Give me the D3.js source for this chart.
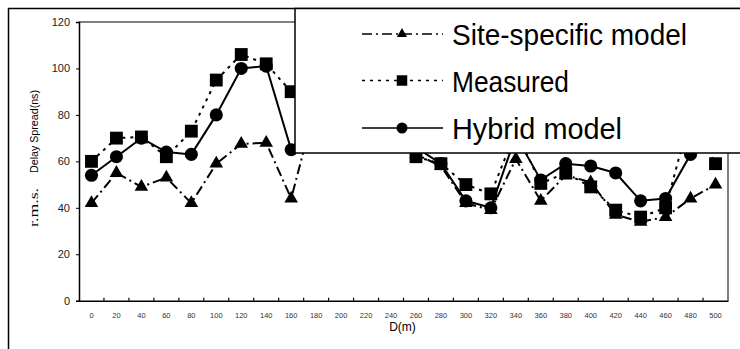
<!DOCTYPE html>
<html>
<head>
<meta charset="utf-8">
<script src="https://cdnjs.cloudflare.com/ajax/libs/d3/7.8.5/d3.min.js"></script>
<style>
  body { margin: 0; background: #fff; }
  svg { display: block; font-family: "Liberation Sans", Arial, sans-serif; }
</style>
</head>
<body>
<svg id="chart" width="740" height="349"></svg>
<script>
// distance along the route (m)
const categories = ['0','20','40','60','80','100','120','140','160','180','200','220','240',
  '260','280','300','320','340','360','380','400','420','440','460','480','500'];

// r.m.s. delay spread (ns); 180-240 sit behind the legend, values there are guesses
const siteSpecific = [42,55,49,53,42,59,67.5,68,44,85,80,78,72,63,58,42,39,61,43,54,51,37,34,36,44,50];
const measured     = [60,70,70.5,62,73,95,106,102,90,95,100,92,80,62,59,50,46,73,50.5,55,49,39,36,40,80,59];
const hybrid       = [54,62,70,64,63,80,100,101,65,80,88,85,75,66,59,43,40,71,52,59,58,55,43,44,63,68];

const yTicks = [0,20,40,60,80,100,120];

const series = [
  { name: 'Site-specific model', values: siteSpecific, symbol: d3.symbolTriangle, size: 80, legendSize: 45, dash: '10,4,2,4' },
  { name: 'Measured', values: measured, symbol: d3.symbolSquare, size: 165, legendSize: 110, dash: '3,5' },
  { name: 'Hybrid model', values: hybrid, symbol: d3.symbolCircle, size: 135, legendSize: 95, dash: null }
];

const svg = d3.select('#chart');
const plot = { left: 79, right: 728, top: 22, bottom: 300.7 };

const x = d3.scaleBand()
  .domain(categories)
  .range([plot.left, plot.right]);
const cx = d => x(d) + x.bandwidth() / 2;

const y = d3.scaleLinear()
  .domain([0, 120])
  .range([plot.bottom, plot.top]);

// outer frame (only left and top edges show)
svg.append('path')
  .attr('d', 'M8.5,349V8.5H740')
  .attr('fill', 'none')
  .attr('stroke', '#000')
  .attr('stroke-width', 1.5);

// grey plot border top/right
svg.append('path')
  .attr('d', `M${plot.left},${plot.top}H${plot.right}V${plot.bottom}`)
  .attr('fill', 'none')
  .attr('stroke', '#808080')
  .attr('stroke-width', 2);

// y axis
const yAxis = svg.append('g')
  .attr('transform', `translate(${plot.left},0)`)
  .call(d3.axisLeft(y).tickValues(yTicks).tickSize(3).tickPadding(6));
yAxis.select('.domain').attr('stroke-width', 1.5);
yAxis.selectAll('text')
  .attr('font-size', 11)
  .attr('font-family', '"Liberation Sans", Arial, sans-serif')
  .attr('fill', '#222');

// x axis: labels centered in bands, ticks on band edges pointing inward
const xAxis = svg.append('g')
  .attr('transform', `translate(0,${plot.bottom})`)
  .call(d3.axisBottom(x).tickSize(0).tickPadding(12));
xAxis.select('.domain').attr('stroke-width', 1.5);
xAxis.selectAll('text')
  .attr('font-size', 7.5)
  .attr('font-family', '"Liberation Sans", Arial, sans-serif')
  .attr('fill', '#333');

xAxis.selectAll('.edge-tick')
  .data(categories.slice(1))
  .join('line')
  .attr('class', 'edge-tick')
  .attr('x1', d => x(d))
  .attr('x2', d => x(d))
  .attr('y1', 0)
  .attr('y2', -3)
  .attr('stroke', '#000')
  .attr('stroke-width', 1.2);

// axis titles
svg.append('text')
  .attr('x', 402.5)
  .attr('y', 331)
  .attr('text-anchor', 'middle')
  .attr('font-size', 12)
  .text('D(m)');

svg.append('text')
  .attr('transform', 'translate(38,227) rotate(-90)')
  .attr('font-family', '"Liberation Serif", "Times New Roman", serif')
  .attr('font-size', 12)
  .attr('textLength', 39)
  .attr('lengthAdjust', 'spacingAndGlyphs')
  .text('r.m.s.');

svg.append('text')
  .attr('transform', 'translate(38,173) rotate(-90)')
  .attr('font-size', 11)
  .attr('textLength', 83)
  .attr('lengthAdjust', 'spacingAndGlyphs')
  .text('Delay Spread(ns)');

// series lines + markers
const line = d3.line()
  .x((v, i) => cx(categories[i]))
  .y(v => y(v));

series.forEach(s => {
  const g = svg.append('g');
  g.append('path')
    .datum(s.values)
    .attr('d', line)
    .attr('fill', 'none')
    .attr('stroke', '#000')
    .attr('stroke-width', 2)
    .attr('stroke-dasharray', s.dash);
  g.selectAll('path.mark')
    .data(s.values)
    .join('path')
    .attr('class', 'mark')
    .attr('transform', (v, i) => `translate(${cx(categories[i])},${y(v)})`)
    .attr('d', d3.symbol(s.symbol, s.size))
    .attr('fill', '#000');
});

// legend box (opaque, covers part of the plot)
const legend = svg.append('g');
legend.append('rect')
  .attr('x', 295)
  .attr('y', 8.5)
  .attr('width', 460)
  .attr('height', 144.5)
  .attr('fill', '#fff')
  .attr('stroke', '#000')
  .attr('stroke-width', 1.5);

const legendRows = [34, 80.5, 128];
const legendWidths = [235, 117, 170];
series.forEach((s, i) => {
  const ly = legendRows[i];
  legend.append('line')
    .attr('x1', 362).attr('x2', 443)
    .attr('y1', ly).attr('y2', ly)
    .attr('stroke', '#000')
    .attr('stroke-width', 1.5)
    .attr('stroke-dasharray', s.dash);
  legend.append('path')
    .attr('transform', `translate(402,${ly})`)
    .attr('d', d3.symbol(s.symbol, s.legendSize))
    .attr('fill', '#000');
  legend.append('text')
    .attr('x', 452)
    .attr('y', ly + 11)
    .attr('font-size', 30)
    .attr('textLength', legendWidths[i])
    .attr('lengthAdjust', 'spacingAndGlyphs')
    .text(s.name);
});
</script>
</body>
</html>
